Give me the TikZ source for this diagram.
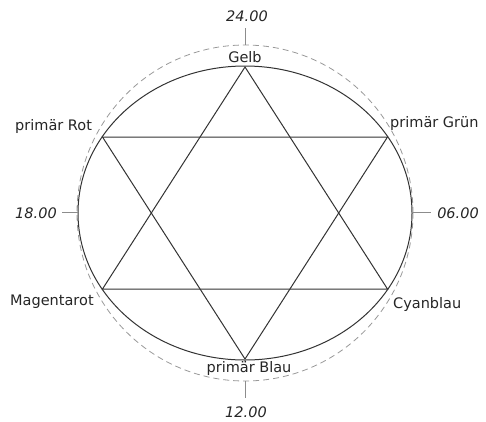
\documentclass[tikz,border=0pt]{standalone}
\usepackage{fontspec}
\setmainfont{DejaVu Sans}[ItalicFont={DejaVu Sans Oblique}]
\begin{document}
\begin{tikzpicture}[x=1pt,y=-1pt,
  lbl/.style={font=\fontsize{14.5}{17}\selectfont, text=black!85, inner sep=0pt},
  tm/.style={font=\fontsize{14.5}{17}\selectfont\itshape, text=black!85, inner sep=0pt},
  solidline/.style={draw=black!80, line width=1pt},
  dashline/.style={draw=black!40, line width=0.8pt, dash pattern=on 6pt off 4pt},
  tick/.style={draw=black!45, line width=0.7pt}]
\useasboundingbox (0,0) rectangle (486,421);
\fill[white] (0,0) rectangle (486,421);
% circles
\draw[dashline] (245,213) circle [radius=168pt];
\draw[solidline] (245,213) ellipse [x radius=167pt, y radius=147pt];
% hexagram vertices
\coordinate (T) at (245,67);
\coordinate (B) at (245,359);
\coordinate (UL) at (102.5,137);
\coordinate (UR) at (387.5,137);
\coordinate (LL) at (102.5,289);
\coordinate (LR) at (387.5,289);
\draw[solidline, line join=miter] (T) -- (LL) -- (LR) -- cycle;
\draw[solidline, line join=miter] (B) -- (UL) -- (UR) -- cycle;
% ticks
\coordinate (n1) at (245,28); \coordinate (n2) at (245,45);
\coordinate (s1) at (245,381); \coordinate (s2) at (245,398);
\coordinate (w1) at (62,212.5); \coordinate (w2) at (78,212.5);
\coordinate (e1) at (412,212.5); \coordinate (e2) at (431,212.5);
\draw[tick] (n1) -- (n2);
\draw[tick] (s1) -- (s2);
\draw[tick] (w1) -- (w2);
\draw[tick] (e1) -- (e2);
% time labels
\node[tm, anchor=base] (h24) at (247,21) {24.00};
\node[tm, anchor=base] (h12) at (246,417) {12.00};
\node[tm, anchor=base] (h18) at (36,218) {18.00};
\node[tm, anchor=base] (h06) at (458,218) {06.00};
% colour labels
\node[lbl, anchor=base] (gelb) at (245,62) {Gelb};
\node[lbl, anchor=base] (blau) at (249,372) {primär Blau};
\node[lbl, anchor=base west] (rot) at (15,130) {primär Rot};
\node[lbl, anchor=base west] (gruen) at (390,127) {primär Grün};
\node[lbl, anchor=base west] (magenta) at (10,305) {Magentarot};
\node[lbl, anchor=base west] (cyan) at (393,308) {Cyanblau};
\end{tikzpicture}
\end{document}
